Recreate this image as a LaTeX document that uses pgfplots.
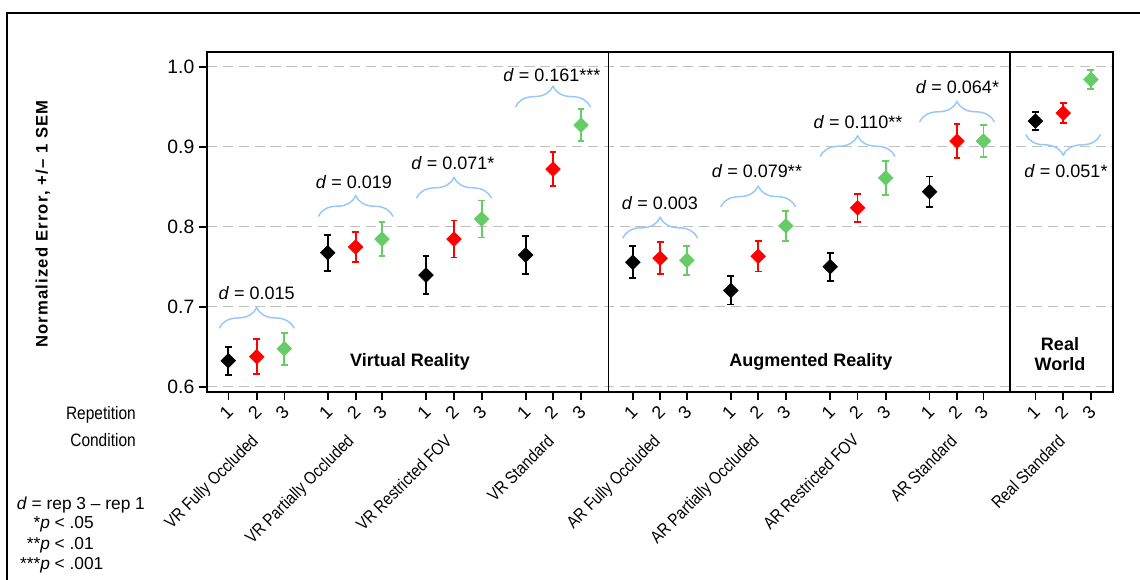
\documentclass[border=0pt]{standalone}
\usepackage{fontspec}
\setmainfont{Liberation Sans}
\newfontfamily\condsans[FakeStretch=0.86]{Liberation Sans}
\usepackage{pgfplots}
\pgfplotsset{compat=1.18}
\usetikzlibrary{decorations.pathreplacing}
\definecolor{mygreen}{RGB}{102,204,102}
\definecolor{myred}{RGB}{255,0,0}
\definecolor{braceblue}{RGB}{150,200,250}
\definecolor{gridgray}{RGB}{192,192,192}

\pgfplotstableread{
x y e
228.3 0.6325 0.0175
327.7 0.7675 0.0225
426.0 0.7396 0.024
525.7 0.7646 0.024
632.8 0.7556 0.020
730.8 0.7203 0.0177
830.2 0.7500 0.0175
929.6 0.8437 0.019
1035.4 0.9320 0.0115
}\repone
\pgfplotstableread{
x y e
256.7 0.6375 0.022
355.7 0.7746 0.019
454.0 0.7846 0.023
553.0 0.8720 0.021
660.2 0.7606 0.020
758.2 0.7630 0.019
857.6 0.8236 0.0177
957.0 0.9070 0.021
1063.2 0.9420 0.0127
}\reptwo
\pgfplotstableread{
x y e
284.3 0.6475 0.020
382.0 0.7846 0.021
481.7 0.8096 0.023
581.0 0.9270 0.020
686.9 0.7580 0.018
785.9 0.8010 0.019
885.7 0.8610 0.0215
983.4 0.9070 0.020
1090.9 0.9840 0.0117
}\repthree

\begin{document}
\begin{tikzpicture}[x=0.75pt,y=0.75pt]
\useasboundingbox (0,0) rectangle (1140,580);
% outer frame (cropped)
\draw[line width=1.1pt] (7,-5) -- (7,567) -- (1145,567);

\begin{axis}[
  at={(155.25pt,141pt)}, anchor=south west,
  width=679.5pt, height=255pt, scale only axis,
  xmin=207, xmax=1113, ymin=0.5934, ymax=1.0184,
  axis line style={line width=1.2pt},
  tick pos=left, tick align=outside,
  major tick length=6pt,
  tick style={line width=1.2pt, black},
  ytick={0.6,0.7,0.8,0.9,1.0},
  ymajorgrids,
  grid style={gridgray, line width=1pt, dash pattern=on 7.7pt off 4.2pt},
  /pgf/number format/assume math mode=true,
  yticklabel style={font=\fontsize{14.5}{16}\selectfont,
    /pgf/number format/.cd, fixed, fixed zerofill, precision=1},
  xtick={228.3,256.7,284.3,327.7,355.7,382.0,426.0,454.0,481.7,525.7,553.0,581.0,632.8,660.2,686.9,730.8,758.2,785.9,830.2,857.6,885.7,929.6,957.0,983.4,1035.4,1063.2,1090.9},
  xticklabels={1,2,3,1,2,3,1,2,3,1,2,3,1,2,3,1,2,3,1,2,3,1,2,3,1,2,3},
  xticklabel style={font=\fontsize{13.5}{16}\selectfont, yshift=-9.3pt, xshift=-1.5pt, rotate=45, anchor=center},
  clip=false,
  font=\fontsize{13.5}{16}\selectfont,
]
% separators
\draw[line width=1.2pt] (axis cs:608.3,0.5934) -- (axis cs:608.3,1.0184);
\draw[line width=1.2pt] (axis cs:1009.7,0.5934) -- (axis cs:1009.7,1.0184);

\addplot[only marks, mark=square*, mark size=3.9pt,
  mark options={rotate=45, fill=black, draw=black, line width=0.4pt},
  error bars/.cd, y dir=both, y explicit,
  error bar style={line width=1.3pt, black},
  error mark options={rotate=90, mark size=2.6pt, line width=1.3pt, black}]
  table[x=x, y=y, y error=e] {\repone};
\addplot[only marks, mark=square*, mark size=3.9pt,
  mark options={rotate=45, fill=myred, draw=myred, line width=0.4pt},
  error bars/.cd, y dir=both, y explicit,
  error bar style={line width=1.3pt, myred},
  error mark options={rotate=90, mark size=2.6pt, line width=1.3pt, myred}]
  table[x=x, y=y, y error=e] {\reptwo};
\addplot[only marks, mark=square*, mark size=3.9pt,
  mark options={rotate=45, fill=mygreen, draw=mygreen, line width=0.4pt},
  error bars/.cd, y dir=both, y explicit,
  error bar style={line width=1.3pt, mygreen},
  error mark options={rotate=90, mark size=2.6pt, line width=1.3pt, mygreen}]
  table[x=x, y=y, y error=e] {\repthree};

% braces
\begin{scope}[braceblue, line width=1.1pt, decoration={brace, amplitude=15.5pt}]
\draw[decorate] (axis cs:219.2,0.6730) -- (axis cs:294.2,0.6730);
\draw[decorate] (axis cs:318.2,0.8127) -- (axis cs:393.2,0.8127);
\draw[decorate] (axis cs:416.5,0.8357) -- (axis cs:491.5,0.8357);
\draw[decorate] (axis cs:515.5,0.9497) -- (axis cs:590.5,0.9497);
\draw[decorate] (axis cs:622.7,0.7857) -- (axis cs:697.7,0.7857);
\draw[decorate] (axis cs:720.7,0.8247) -- (axis cs:795.7,0.8247);
\draw[decorate] (axis cs:820.1,0.8877) -- (axis cs:895.1,0.8877);
\draw[decorate] (axis cs:919.5,0.9307) -- (axis cs:994.5,0.9307);
\draw[decorate] (axis cs:1100.7,0.9153) -- (axis cs:1025.7,0.9153);
\end{scope}

% d labels
\node at (axis cs:256.7,0.7167) {\textit{d} = 0.015};
\node at (axis cs:354,0.856) {\textit{d} = 0.019};
\node at (axis cs:453,0.879) {\textit{d} = 0.071*};
\node at (axis cs:552,0.9896) {\textit{d} = 0.161***};
\node at (axis cs:660,0.830) {\textit{d} = 0.003};
\node at (axis cs:757,0.869) {\textit{d} = 0.079**};
\node at (axis cs:858,0.931) {\textit{d} = 0.110**};
\node at (axis cs:957.5,0.974) {\textit{d} = 0.064*};
\node at (axis cs:1066,0.869) {\textit{d} = 0.051*};

% region labels
\node[font=\bfseries\fontsize{13.5}{16}\selectfont] at (axis cs:410,0.6313) {Virtual Reality};
\node[font=\bfseries\fontsize{13.5}{16}\selectfont] at (axis cs:811,0.6313) {Augmented Reality};
\node[font=\bfseries\fontsize{13.5}{16}\selectfont, align=center] at (axis cs:1060,0.641) {Real\\[-1pt]World};
\end{axis}

% y label
\node[rotate=90, font=\bfseries\fontsize{12.5}{15}\selectfont\addfontfeatures{LetterSpace=7}] at (43,356) {Normalized Error, +/– 1 SEM};

% category labels
\begin{scope}[every node/.style={rotate=45, anchor=north east, inner sep=0pt, font=\condsans\fontsize{13}{15}\selectfont}]
\node at (250,147) {VR Fully Occluded};
\node at (346,147) {VR Partially Occluded};
\node at (444,147) {VR Restricted FOV};
\node at (546,147) {VR Standard};
\node at (652,147) {AR Fully Occluded};
\node at (751,147) {AR Partially Occluded};
\node at (851,148) {AR Restricted FOV};
\node at (949,147) {AR Standard};
\node at (1057,147) {Real Standard};
\end{scope}

% left annotations
\begin{scope}[every node/.style={inner sep=0pt, font=\condsans\fontsize{13.5}{15}\selectfont}]
\node[anchor=east] at (136,165) {Repetition};
\node[anchor=east] at (136,140) {Condition};
\end{scope}
\begin{scope}[every node/.style={inner sep=0pt, font=\fontsize{13}{15}\selectfont}]
\node[anchor=west] at (16.5,75) {\textit{d} = rep 3 – rep 1};
\node[anchor=west] at (40,56) {\llap{*}\textit{p} < .05};
\node[anchor=west] at (40,35) {\llap{**}\textit{p} < .01};
\node[anchor=west] at (40,15) {\llap{***}\textit{p} < .001};
\end{scope}
\end{tikzpicture}
\end{document}
